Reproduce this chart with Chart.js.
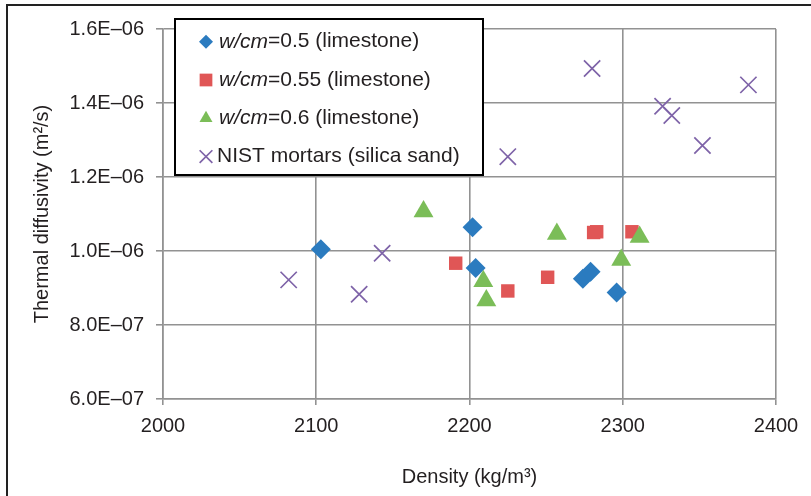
<!DOCTYPE html>
<html>
<head>
<meta charset="utf-8">
<script src="https://cdn.jsdelivr.net/npm/chart.js@4.4.1/dist/chart.umd.min.js"></script>
<style>
  body { margin: 0; background: #fff; }
  #wrap { position: relative; width: 811px; height: 496px; overflow: hidden; }
  #frame { position: absolute; left: 6px; top: 4px; width: 900px; height: 600px;
           border-left: 2px solid #222; border-top: 2px solid #222; pointer-events: none; }
</style>
</head>
<body>
<div id="wrap">
  <canvas id="diffChart" width="811" height="496"></canvas>
  <div id="frame"></div>
</div>
<script>
// density (kg/m3) and thermal diffusivity (m2/s)
var wc05Density = [2103, 2202, 2204, 2274, 2279, 2296];
var wc05Diff = [1.005e-6, 1.064e-6, 0.954e-6, 0.925e-6, 0.944e-6, 0.888e-6];

var wc055Density = [2191, 2225, 2251, 2281, 2283, 2306];
var wc055Diff = [0.967e-6, 0.892e-6, 0.929e-6, 1.050e-6, 1.052e-6, 1.052e-6];

var wc06Density = [2170, 2209, 2211, 2257, 2299, 2311];
var wc06Diff = [1.107e-6, 0.918e-6, 0.866e-6, 1.046e-6, 0.976e-6, 1.038e-6];

var nistDensity = [2082, 2128, 2143, 2225, 2280, 2326, 2332, 2352, 2382];
var nistDiff = [0.922e-6, 0.883e-6, 0.994e-6, 1.255e-6, 1.493e-6, 1.391e-6, 1.366e-6, 1.285e-6, 1.449e-6];

var seriesNames = ['w/cm=0.5 (limestone)', 'w/cm=0.55 (limestone)', 'w/cm=0.6 (limestone)', 'NIST mortars (silica sand)'];
var xTickValues = [2000, 2100, 2200, 2300, 2400];
var yTickValues = [6e-7, 8e-7, 1e-6, 1.2e-6, 1.4e-6, 1.6e-6];

function pts(xs, ys) {
    return xs.map((x, i) => ({x: x, y: ys[i]}));
}

function sciLabel(v) {
    var parts = v.toExponential(1).split('e');
    var e = parseInt(parts[1], 10);
    return parts[0] + 'E' + (e < 0 ? '\u2013' : '+') + String(Math.abs(e)).padStart(2, '0');
}

var gridGray = '#929292';
var textColor = '#231f20';
var fontFamily = '"Liberation Sans", Arial, sans-serif';
var legendRadius = [7, 9, 7.5, 9];

// boxed legend with italic "w/cm"
var boxLegend = {
    id: 'boxLegend',
    afterDraw(chart) {
        var ctx = chart.ctx;
        ctx.save();
        ctx.fillStyle = '#fff';
        ctx.fillRect(175, 19, 308, 156);
        ctx.strokeStyle = '#000';
        ctx.lineWidth = 2;
        ctx.strokeRect(175, 19, 308, 156);
        chart.data.datasets.forEach((ds, i) => {
            var y = 41.7 + i * 38.3;
            ctx.fillStyle = ds.backgroundColor;
            ctx.strokeStyle = ds.borderColor;
            ctx.lineWidth = ds.borderWidth;
            Chart.helpers.drawPoint(ctx, {pointStyle: ds.pointStyle, radius: legendRadius[i], borderWidth: ds.borderWidth, rotation: 0}, 206, y);
            var x = ds.pointStyle == 'crossRot' ? 217 : 219;
            var label = ds.label;
            ctx.fillStyle = textColor;
            ctx.textBaseline = 'middle';
            ctx.textAlign = 'left';
            if (label.indexOf('w/cm') == 0) {
                ctx.font = 'italic 21px ' + fontFamily;
                ctx.fillText('w/cm', x, y);
                x += ctx.measureText('w/cm').width;
                label = label.slice(4);
            }
            ctx.font = '21px ' + fontFamily;
            ctx.fillText(label, x, y);
        });
        ctx.restore();
    }
};

var ctx = document.getElementById('diffChart').getContext('2d');
new Chart(ctx, {
    type: 'scatter',
    data: {
        datasets: [
            {label: seriesNames[0], data: pts(wc05Density, wc05Diff), pointStyle: 'rectRot', pointRadius: 10,
             backgroundColor: '#2b7bbf', borderColor: '#2b7bbf', borderWidth: 0, order: 4},
            {label: seriesNames[1], data: pts(wc055Density, wc055Diff), pointStyle: 'rect', pointRadius: 9.5,
             backgroundColor: '#e05656', borderColor: '#e05656', borderWidth: 0, order: 3},
            {label: seriesNames[2], data: pts(wc06Density, wc06Diff), pointStyle: 'triangle', pointRadius: 11.5,
             backgroundColor: '#7bbd58', borderColor: '#7bbd58', borderWidth: 0, order: 2},
            {label: seriesNames[3], data: pts(nistDensity, nistDiff), pointStyle: 'crossRot', pointRadius: 11.5,
             backgroundColor: '#7e63a8', borderColor: '#7e63a8', borderWidth: 1.7, order: 1}
        ]
    },
    options: {
        responsive: false,
        animation: false,
        devicePixelRatio: 1,
        layout: {padding: {left: 0, top: 29, right: 35, bottom: 0}},
        plugins: {
            legend: {display: false},
            tooltip: {enabled: false}
        },
        scales: {
            x: {
                type: 'linear',
                min: 2000,
                max: 2400,
                afterBuildTicks: (s) => { s.ticks = xTickValues.map(v => ({value: v})); },
                afterFit: (s) => { s.height = 97; },
                grid: {color: gridGray, lineWidth: 1.6, tickLength: 6, tickColor: gridGray},
                border: {color: gridGray, width: 1.6},
                ticks: {color: textColor, padding: 9, maxRotation: 0, callback: (v) => String(v),
                        font: {family: fontFamily, size: 20}},
                title: {display: true, text: 'Density (kg/m\u00b3)', color: textColor, padding: 7,
                        font: {family: fontFamily, size: 20}}
            },
            y: {
                type: 'linear',
                min: 6e-7,
                max: 1.6e-6,
                afterBuildTicks: (s) => { s.ticks = yTickValues.map(v => ({value: v})); },
                afterFit: (s) => { s.width = 163; },
                grid: {color: gridGray, lineWidth: 1.6, tickLength: 7, tickColor: gridGray},
                border: {color: gridGray, width: 1.6},
                ticks: {color: textColor, padding: 12, callback: sciLabel,
                        font: {family: fontFamily, size: 20}},
                title: {display: true, text: 'Thermal diffusivity (m\u00b2/s)', color: textColor, padding: 30,
                        font: {family: fontFamily, size: 20}}
            }
        }
    },
    plugins: [boxLegend]
});
</script>
</body>
</html>
